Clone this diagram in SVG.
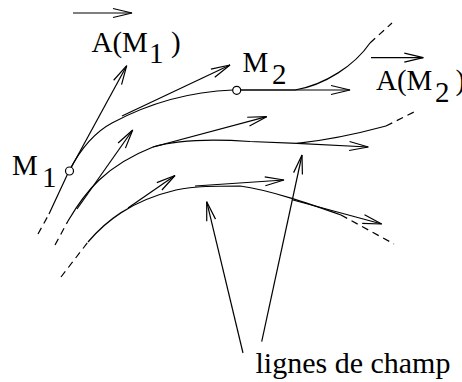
<svg xmlns="http://www.w3.org/2000/svg" width="462" height="382" viewBox="0 0 462 382">
<style>
.ln{fill:none;stroke:#000;stroke-width:1.2}
.ds{fill:none;stroke:#000;stroke-width:1.2;stroke-dasharray:7 5}
.ar{fill:none;stroke:#000;stroke-width:1.2;marker-end:url(#ah)}
.pt{fill:#fff;stroke:#000;stroke-width:1.2}
text{font-family:"Liberation Serif","Times New Roman",serif;font-size:29px;fill:#000}
</style>
<defs>
<marker id="ah" markerUnits="userSpaceOnUse" markerWidth="22" markerHeight="12" refX="19" refY="5" orient="auto" overflow="visible">
<path d="M0,0.5 L19,5 L0,9.5" fill="none" stroke="#000" stroke-width="1.2"/>
</marker>
</defs>
<g id="connectors">
<!-- field line 1 -->
<path class="ds" d="M38,234 L49,214"/>
<path class="ln" d="M49,214 L69,171 C80,150 95,132 112,123 C140,108 180,92 233,90 L295,90 C325,85 355,65 370,43"/>
<path class="ds" d="M370,43 L392,23"/>
<!-- field line 2 -->
<path class="ds" d="M55,245 L68,221"/>
<path class="ln" d="M68,221 C85,192 105,166 153,147 C180,139 215,139 250,141.5 L297,143.3 C330,140 360,133 386,126"/>
<path class="ds" d="M386,126 L416,111"/>
<!-- field line 3 -->
<path class="ds" d="M61,277 L88,242"/>
<path class="ln" d="M88,242 C105,222 130,201 176,190 C195,186 215,186 240,186 C270,190 310,204 341,215"/>
<path class="ds" d="M341,215 L394,244"/>
<!-- vectors -->
<path class="ar" d="M69.3,171 L126.7,65.7"/>
<path class="ar" d="M122,116 L230,65"/>
<path class="ar" d="M237,90 L350,90"/>
<path class="ar" d="M77,209 L132.7,130"/>
<path class="ar" d="M153,147 L266.7,116.7"/>
<path class="ar" d="M297,143.3 L368.3,147"/>
<path class="ar" d="M128,208 L175,175.5"/>
<path class="ar" d="M195,186 L284,180"/>
<path class="ar" d="M293,200 L381.7,224"/>
<!-- pointers to label -->
<path class="ar" d="M243,353 L206.7,201.7"/>
<path class="ar" d="M261.7,341.7 L302,155"/>
<!-- vector bars over labels -->
<path class="ar" d="M73,13 L132,13"/>
<path class="ar" d="M371,57.7 L423.3,57.7"/>
</g>
<g id="M1">
<circle class="pt" cx="69.5" cy="171" r="4"/>
<text x="12" y="175">M</text>
<text x="42" y="187">1</text>
</g>
<g id="M2">
<circle class="pt" cx="236.7" cy="90.3" r="4"/>
<text x="242.5" y="72">M</text>
<text x="272" y="83.5">2</text>
</g>
<g id="AM1">
<text x="91.5" y="52">A(M</text>
<text x="149" y="63">1</text>
<text x="171" y="52">)</text>
</g>
<g id="AM2">
<text x="376" y="90">A(M</text>
<text x="435" y="101.7">2</text>
<text x="455.5" y="90">)</text>
</g>
<g id="label">
<text x="255.5" y="373" style="font-size:30px">lignes de champ</text>
</g>
</svg>
